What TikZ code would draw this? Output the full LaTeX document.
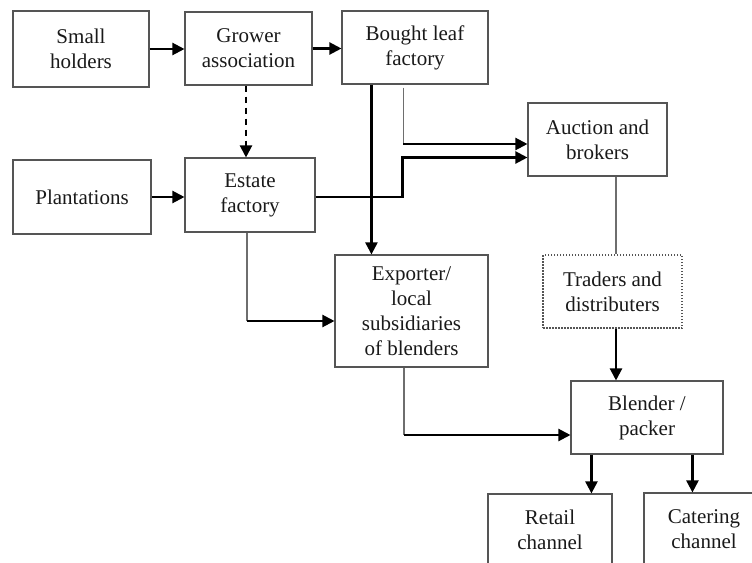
\documentclass[tikz,border=0pt]{standalone}
\usepackage{fontspec}
\setmainfont{Liberation Serif}
\usetikzlibrary{arrows.meta,calc}
\definecolor{boxgray}{RGB}{85,85,85}
\definecolor{linegray}{RGB}{110,110,110}
\tikzset{
  box/.style={draw=boxgray, line width=1.1pt, rectangle, inner sep=0pt, align=center,
    font=\fontsize{21}{25}\selectfont, text=black!90},
  dotbox/.style={box, dash pattern=on 1.5pt off 1.5pt},
  arr/.style={draw=black, line width=2.2pt, -{Triangle[length=12pt,width=12pt]}},
  thinline/.style={draw=linegray, line width=1.2pt},
  dashline/.style={draw=black, line width=2.2pt, dash pattern=on 6pt off 5pt, -{Triangle[length=12pt,width=12pt]}}
}
\begin{document}
\begin{tikzpicture}[x=1pt,y=-1pt]
\useasboundingbox (0,0) rectangle (752,562);
\node[box, minimum width=136pt, minimum height=76pt] (small) at (81,49) {Small\\holders};
\node[box, minimum width=127pt, minimum height=73pt] (grower) at (248.5,48.5) {Grower\\association};
\node[box, minimum width=146pt, minimum height=73pt] (bought) at (415,47.5) {Bought leaf\\factory};
\node[box, minimum width=139pt, minimum height=73pt] (auction) at (597.5,139.5) {Auction and\\brokers};
\node[box, minimum width=138pt, minimum height=74pt] (plant) at (82,197) {Plantations};
\node[box, minimum width=130pt, minimum height=74pt] (estate) at (250,195) {Estate\\factory};
\node[box, minimum width=153pt, minimum height=112pt] (exporter) at (411.5,311) {Exporter/\\local\\subsidiaries\\of blenders};
\node[dotbox, minimum width=139pt, minimum height=73pt] (traders) at (612.5,291.5) {Traders and\\distributers};
\node[box, minimum width=152pt, minimum height=73pt] (blender) at (647,417.5) {Blender /\\packer};
\node[box, minimum width=124pt, minimum height=72pt] (retail) at (550,530) {Retail\\channel};
\node[box, minimum width=120pt, minimum height=72pt] (catering) at (704,529) {Catering\\channel};

% top row
\draw[arr] (small.east) -- (small.east -| grower.west);
\draw[arr] (grower.east) -- (grower.east -| bought.west);
\coordinate (g1) at ($(grower.south)+(-2.5,0)$);
\draw[dashline] (g1) -- (g1 |- estate.north);
\draw[arr] (plant.east) -- (plant.east -| estate.west);

% bought leaf factory
\coordinate (bl) at ($(bought.south west)+(30,0)$);
\draw[arr] (bl) -- (bl |- exporter.north);
\coordinate (br) at ($(bought.south west)+(62,3)$);
\coordinate (a1) at ($(auction.west)+(0,4.5)$);
\draw[thinline] (br) -- (br |- a1);
\draw[arr] (br |- a1) -- (a1);

% estate factory to auction
\coordinate (a2) at ($(auction.west)+(0,18)$);
\coordinate (e2) at ($(estate.east)+(0,2)$);
\draw[arr] (e2) -- ($(e2 -| br)+(-1,0)$) -- ($(br |- a2)+(-1,0)$) -- (a2);

% estate factory to exporter
\coordinate (e1) at ($(estate.south)+(-3,0)$);
\coordinate (x1) at ($(exporter.west)+(0,10)$);
\draw[thinline] (e1) -- (e1 |- x1);
\draw[arr] (e1 |- x1) -- (x1);

% auction to traders to blender
\coordinate (t1) at ($(traders.north)+(3.5,0)$);
\draw[thinline] (t1 |- auction.south) -- (t1);
\coordinate (t2) at ($(traders.south)+(3.5,0)$);
\draw[arr] (t2) -- (t2 |- blender.north);

% exporter to blender
\coordinate (x2) at ($(exporter.south)+(-7.5,0)$);
\coordinate (b1) at ($(blender.west)+(0,17.5)$);
\draw[thinline] (x2) -- (x2 |- b1);
\draw[arr] (x2 |- b1) -- (b1);

% blender to channels
\coordinate (b2) at ($(blender.south west)+(21,0)$);
\draw[arr] (b2) -- (b2 |- retail.north);
\coordinate (b3) at ($(blender.south west)+(122,0)$);
\draw[arr] (b3) -- (b3 |- catering.north);
\end{tikzpicture}
\end{document}
